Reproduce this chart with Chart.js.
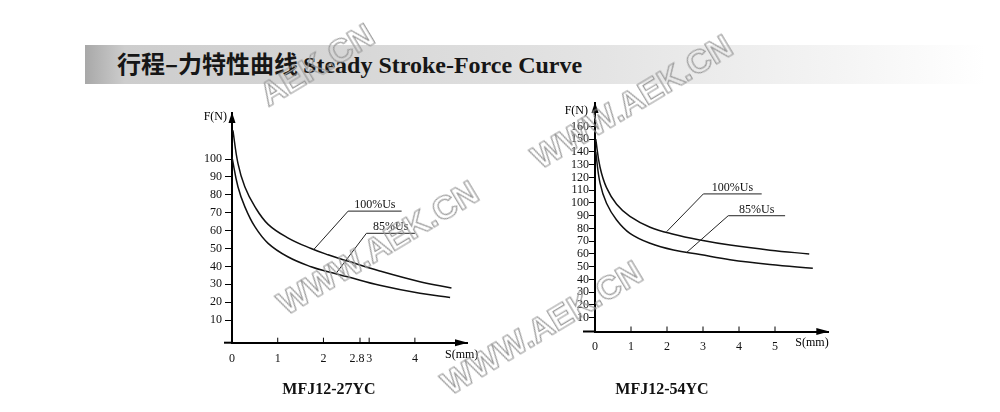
<!DOCTYPE html>
<html><head><meta charset="utf-8">
<script src="https://cdn.jsdelivr.net/npm/chart.js@4"></script>
<style>
html,body{margin:0;padding:0;background:#fff;}
#wrap{position:relative;width:1000px;height:412px;overflow:hidden;background:#fff;}
.band{position:absolute;left:85px;top:45px;width:915px;height:39px;background:linear-gradient(to right,#a8a8a8 0px,#cdcdcd 40px,#d6d6d6 250px,#e4e4e4 520px,#f4f4f4 750px,#fff 900px);}
.title{position:absolute;left:117px;top:64px;transform:translateY(-50%);white-space:nowrap;font-weight:bold;color:#161616;line-height:1;}
.zh{font-family:"Noto Sans CJK SC";font-size:24px;letter-spacing:0px;}
.en{font-family:"Liberation Serif";font-size:24px;margin-left:5px;}
canvas{position:absolute;left:0;top:0;}
.wm{position:absolute;transform:translate(-50%,-50%) rotate(-31deg);font-family:"Liberation Sans";font-weight:bold;font-size:33px;color:transparent;-webkit-text-stroke:1.2px #999;white-space:nowrap;}
.cap{position:absolute;font-family:"Liberation Serif";font-weight:bold;font-size:16px;transform:translate(-50%,-50%);white-space:nowrap;color:#111;}
</style></head>
<body>
<div id="wrap">
  <div class="band"></div>
  <div class="title"><span class="zh">行程–力特性曲线</span><span class="en">Steady Stroke-Force Curve</span></div>
  <canvas id="c1" width="1000" height="412"></canvas>
  <canvas id="c2" width="1000" height="412"></canvas>
  <div class="cap" style="left:329px;top:389px;">MFJ12-27YC</div>
  <div class="cap" style="left:662px;top:389px;">MFJ12-54YC</div>
  <div class="wm" style="left:317px;top:65px;">AEK.CN</div>
  <div class="wm" style="left:632px;top:102px;">WWW.AEK.CN</div>
  <div class="wm" style="left:378px;top:248px;">WWW.AEK.CN</div>
  <div class="wm" style="left:542px;top:328px;">WWW.AEK.CN</div>
</div>
<script>
// ---- data: MFJ12-27YC ----
const leftS100 = [0.02,0.13,0.28,0.50,0.79,1.22,1.73,2.10,2.53,3.23,4.11,4.80];
const leftF100 = [116,97.6,84.5,73.4,63.5,56.0,50.0,46.5,43.0,37.5,31.5,28.0];
const leftS85  = [0.00,0.13,0.28,0.50,0.79,1.22,1.73,2.10,2.53,3.23,4.11,4.77];
const leftF85  = [101,84.5,73.4,62.2,52.9,45.4,39.8,37.0,34.2,29.5,25.0,22.7];
const leftXTicks = [0,1,2,2.8,3,4];
const leftXLabels = ['0','1','2','2.8\u2002','3','4'];
const leftYTicks = [10,20,30,40,50,60,70,80,90,100];
// ---- data: MFJ12-54YC ----
const rightS100 = [0.02,0.14,0.32,0.60,0.97,1.53,2.18,2.92,3.75,4.86,5.95];
const rightF100 = [150,128,112,99,89.5,81,75.5,71,67,63,60];
const rightS85  = [0.02,0.14,0.32,0.60,0.97,1.53,2.18,2.92,3.75,4.86,6.05];
const rightF85  = [140,115.5,99.8,86.7,76.2,68.4,63.1,59.5,55.5,51.8,48.8];
const rightXTicks = [0,1,2,3,4,5];
const rightXLabels = ['0','1','2','3','4','5'];
const rightYTicks = [10,20,30,40,50,60,70,80,90,100,110,120,130,140,150,160];
const seriesNames = ['100%Us','85%Us'];

function pts(xs, ys){ return xs.map((x,i)=>({x:x,y:ys[i]})); }

const decor = {
  id:'decor',
  afterDraw(chart, args, o){
    const ctx=chart.ctx, a=chart.chartArea, xs=chart.scales.x, ys=chart.scales.y;
    ctx.save();
    ctx.strokeStyle='#000'; ctx.fillStyle='#000';
    ctx.lineWidth=2;
    ctx.beginPath(); ctx.moveTo(a.left-o.ext, a.bottom); ctx.lineTo(a.left, a.bottom); ctx.stroke();
    ctx.beginPath(); ctx.moveTo(a.left, a.top-1); ctx.lineTo(a.left-3.5, a.top+10); ctx.lineTo(a.left+3.5, a.top+10); ctx.closePath(); ctx.fill();
    ctx.beginPath(); ctx.moveTo(a.right+1, a.bottom); ctx.lineTo(a.right-12, a.bottom-3.5); ctx.lineTo(a.right-12, a.bottom+3.5); ctx.closePath(); ctx.fill();
    ctx.lineWidth=1;
    xs.ticks.forEach(t=>{
      if(t.value===0) return;
      const px=xs.getPixelForValue(t.value);
      ctx.beginPath(); ctx.moveTo(px, a.bottom); ctx.lineTo(px, a.bottom-5); ctx.stroke();
    });
    ctx.font='12px "Liberation Serif"';
    ctx.textBaseline='middle';
    ctx.textAlign='right'; ctx.fillText('F(N)', a.left+o.fnDx, a.top+o.fnDy);
    ctx.textAlign='left'; ctx.fillText('S(mm)', a.right+o.smDx, a.bottom+o.smDy);
    o.notes.forEach((n,i)=>{
      const x1=xs.getPixelForValue(n.from), x2=xs.getPixelForValue(n.to), y=ys.getPixelForValue(n.at);
      const tx=xs.getPixelForValue(n.tipS), ty=ys.getPixelForValue(n.tipF);
      ctx.strokeStyle='#222'; ctx.lineWidth=1;
      ctx.beginPath(); ctx.moveTo(tx,ty); ctx.lineTo(x1,y); ctx.lineTo(x2,y); ctx.stroke();
      ctx.fillStyle='#111'; ctx.textAlign='center'; ctx.textBaseline='alphabetic';
      ctx.fillText(seriesNames[i], (x1+x2)/2, y-3);
    });
    ctx.restore();
  }
};

function makeChart(id, cfg){
  const font={family:'"Liberation Serif"', size:12};
  return new Chart(document.getElementById(id), {
    type:'line',
    data:{datasets:[
      {label:seriesNames[0], data:pts(cfg.s100,cfg.f100), borderColor:'#111', borderWidth:1.5, pointRadius:0, tension:0.4, fill:false},
      {label:seriesNames[1], data:pts(cfg.s85,cfg.f85), borderColor:'#111', borderWidth:1.5, pointRadius:0, tension:0.4, fill:false}
    ]},
    options:{
      responsive:false, animation:false, devicePixelRatio:1,
      layout:{padding:cfg.pad},
      plugins:{legend:{display:false}, tooltip:{enabled:false}, decor:cfg.decor},
      scales:{
        x:{type:'linear', min:0, max:cfg.xmax,
          afterBuildTicks:s=>{ s.ticks=cfg.xt.map(v=>({value:v})); },
          afterFit:s=>{ s.height=30; },
          grid:{display:false},
          border:{display:true, color:'#000', width:2},
          ticks:{autoSkip:false, maxRotation:0, padding:cfg.xpad, color:'#111', font:font,
            callback:(v,i)=>cfg.xl[i]}
        },
        y:{type:'linear', min:cfg.ymin, max:cfg.ymax,
          afterBuildTicks:s=>{ s.ticks=cfg.yt.map(v=>({value:v})); },
          afterFit:s=>{ s.width=40; },
          grid:{display:true, drawOnChartArea:false, drawTicks:true, tickLength:cfg.tl, tickColor:'#000', tickWidth:1},
          border:{display:true, color:'#000', width:2},
          ticks:{autoSkip:false, padding:cfg.ypad, color:'#111', font:font, callback:v=>String(v)}
        }
      }
    },
    plugins:[decor]
  });
}

makeChart('c1', {
  s100:leftS100, f100:leftF100, s85:leftS85, f85:leftF85, xt:leftXTicks, xl:leftXLabels, yt:leftYTicks,
  xmax:5.14, ymin:-2.6, ymax:125.7, xpad:1, ypad:3, tl:7,
  pad:{left:192, top:113, right:533, bottom:39.3},
  decor:{ext:8, fnDx:-5, fnDy:4, smDx:-22, smDy:12,
    notes:[{from:2.54,to:3.71,at:70.9,tipS:1.79,tipF:49.5},
           {from:2.94,to:4.0,at:58.5,tipS:2.27,tipF:35.9}]}
});
makeChart('c2', {
  s100:rightS100, f100:rightF100, s85:rightS85, f85:rightF85, xt:rightXTicks, xl:rightXLabels, yt:rightYTicks,
  xmax:6.48, ymin:-0.8, ymax:178.4, xpad:0, ypad:0, tl:6,
  pad:{left:555, top:103, right:171.7, bottom:50.5},
  decor:{ext:12, fnDx:-7, fnDy:8, smDx:-33, smDy:11.5,
    notes:[{from:3.01,to:4.63,at:107.1,tipS:1.99,tipF:77.5},
           {from:3.70,to:5.28,at:90,tipS:2.55,tipF:61.3}]}
});
</script>
</body></html>
